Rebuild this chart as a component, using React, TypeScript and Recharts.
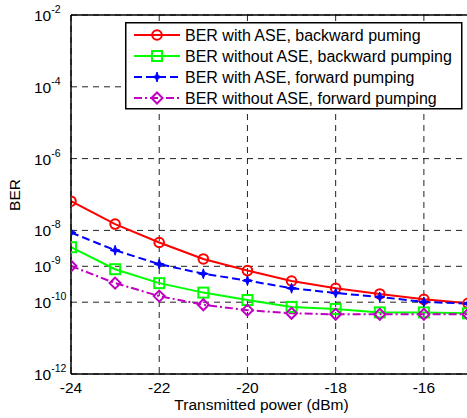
import React from 'react';
import { LineChart, Line, XAxis, YAxis, CartesianGrid, Legend, Label } from 'recharts';

const powerDbm = [-24, -23, -22, -21, -20, -19, -18, -17, -16, -15];
const berAseBackward = [6.5e-8, 1.5e-8, 4.6e-9, 1.6e-9, 7.6e-10, 3.9e-10, 2.45e-10, 1.7e-10, 1.2e-10, 9.3e-11];
const berNoAseBackward = [3.4e-9, 8.3e-10, 3.4e-10, 1.85e-10, 1.15e-10, 7.4e-11, 6.5e-11, 5.2e-11, 5.2e-11, 4.9e-11];
const berAseForward = [8.7e-9, 2.8e-9, 1.15e-9, 6.2e-10, 4.0e-10, 2.45e-10, 1.8e-10, 1.4e-10, 1.02e-10, 9.1e-11];
const berNoAseForward = [1.02e-9, 3.4e-10, 1.48e-10, 8.5e-11, 6.0e-11, 4.9e-11, 4.6e-11, 4.6e-11, 4.6e-11, 4.6e-11];

const xTicks = [-24, -22, -20, -18, -16];
const yTickExponents = [-2, -4, -6, -8, -9, -10, -12];
const yTicks = yTickExponents.map((e) => Math.pow(10, e));

const seriesNames = [
  'BER with ASE, backward puming',
  'BER without ASE, backward pumping',
  'BER with ASE, forward pumping',
  'BER without ASE, forward pumping',
];

const data = powerDbm.map((p, i) => ({
  p,
  a: berAseBackward[i],
  b: berNoAseBackward[i],
  c: berAseForward[i],
  d: berNoAseForward[i],
}));

const FONT = '"Liberation Sans", Arial, sans-serif';

type MarkerKind = 'circle' | 'square' | 'star' | 'diamond';

const series: { key: string; name: string; color: string; dash?: string; marker: MarkerKind }[] = [
  { key: 'a', name: seriesNames[0], color: '#ff0000', marker: 'circle' },
  { key: 'b', name: seriesNames[1], color: '#00ff00', marker: 'square' },
  { key: 'c', name: seriesNames[2], color: '#0000ff', dash: '8 4', marker: 'star' },
  { key: 'd', name: seriesNames[3], color: '#c000c0', dash: '8 3 2 3', marker: 'diamond' },
];

function Marker({ cx, cy, kind, color }: { cx: number; cy: number; kind: MarkerKind; color: string }) {
  if (cx == null || cy == null) return null;
  if (kind === 'circle') return <circle cx={cx} cy={cy} r={4.8} fill="none" stroke={color} strokeWidth={2} />;
  if (kind === 'square') return <rect x={cx - 5} y={cy - 5} width={10} height={10} fill="none" stroke={color} strokeWidth={2} />;
  if (kind === 'diamond')
    return (
      <path d={`M${cx},${cy - 5.5} L${cx + 5.5},${cy} L${cx},${cy + 5.5} L${cx - 5.5},${cy} Z`} fill="none" stroke={color} strokeWidth={2} />
    );
  const r = 5;
  const ri = 1.8;
  const pts: string[] = [];
  for (let k = 0; k < 8; k++) {
    const ang = (Math.PI / 4) * k - Math.PI / 2;
    const rr = k % 2 === 0 ? r : ri;
    pts.push(`${cx + rr * Math.cos(ang)},${cy + rr * Math.sin(ang)}`);
  }
  return (
    <g>
      <polygon points={pts.join(' ')} fill={color} stroke={color} strokeWidth={1} />
      <line x1={cx - 4} y1={cy} x2={cx + 4} y2={cy} stroke={color} strokeWidth={2} />
    </g>
  );
}

const XTick = (props: any) => {
  const { x, payload } = props;
  return (
    <text x={x} y={393} textAnchor="middle" fontSize={15.5} fontFamily={FONT} fill="#000">
      {payload.value}
    </text>
  );
};

const YTick = (props: any) => {
  const { y, payload } = props;
  const e = Math.round(Math.log10(payload.value));
  return (
    <text x={34} y={y + 6} textAnchor="start" fontSize={15.5} fontFamily={FONT} fill="#000">
      10
      <tspan fontSize={10.5} dy={-8}>
        {String(e)}
      </tspan>
    </text>
  );
};

const Empty = () => <g />;

const BerLabel = () => (
  <text
    x={14.5}
    y={195}
    transform="rotate(-90 14.5 195)"
    textAnchor="middle"
    dominantBaseline="central"
    fontSize={15.5}
    fontFamily={FONT}
    fill="#000"
  >
    BER
  </text>
);

const LegendContent = () => (
  <svg width={338} height={88} style={{ display: 'block' }}>
    <rect x={0.75} y={0.75} width={336} height={86} fill="#fff" stroke="#000" strokeWidth={1.5} />
    {series.map((s, i) => {
      const y = 13 + i * 21;
      return (
        <g key={s.key}>
          <line x1={9} y1={y} x2={55} y2={y} stroke={s.color} strokeWidth={2} strokeDasharray={s.dash} />
          <Marker cx={32} cy={y} kind={s.marker} color={s.color} />
          <text x={60} y={y + 5.5} fontSize={16} fontFamily={FONT} fill="#000">
            {s.name}
          </text>
        </g>
      );
    })}
  </svg>
);

export default function App() {
  return (
    <div style={{ position: 'absolute', left: 0, top: 0 }}>
      <LineChart width={468} height={418} data={data} margin={{ top: 15, right: 0, bottom: 0, left: 0 }}>
        <CartesianGrid stroke="#222" strokeDasharray="6 5" strokeWidth={1} />
        <XAxis
          dataKey="p"
          type="number"
          domain={[-24, -15]}
          ticks={xTicks}
          height={44}
          tickLine={false}
          axisLine={{ stroke: '#000', strokeWidth: 1.5 }}
          tick={<XTick />}
          allowDataOverflow
        >
          <Label
            value="Transmitted power (dBm)"
            position="insideBottom"
            offset={8}
            dx={-8}
            style={{ fontSize: 15.5, fontFamily: FONT, fill: '#000' }}
          />
        </XAxis>
        <XAxis
          xAxisId="top"
          orientation="top"
          type="number"
          domain={[-24, -15]}
          ticks={xTicks}
          mirror
          tickSize={5}
          tickLine={{ stroke: '#000' }}
          axisLine={{ stroke: '#000', strokeWidth: 1.5 }}
          tick={<Empty />}
          allowDataOverflow
        />
        <YAxis
          scale="log"
          type="number"
          domain={[1e-12, 1e-2]}
          ticks={yTicks}
          width={71}
          tickLine={false}
          axisLine={{ stroke: '#000', strokeWidth: 1.5 }}
          tick={<YTick />}
          allowDataOverflow
        >
          <Label value="BER" content={<BerLabel />} />
        </YAxis>
        <YAxis
          yAxisId="right"
          orientation="right"
          scale="log"
          type="number"
          domain={[1e-12, 1e-2]}
          ticks={yTicks}
          mirror
          width={0}
          tickSize={5}
          tickLine={{ stroke: '#000' }}
          axisLine={false}
          tick={<Empty />}
          allowDataOverflow
        />
        <Legend
          layout="vertical"
          align="center"
          verticalAlign="middle"
          content={<LegendContent />}
          wrapperStyle={{ position: 'absolute', left: 125, top: 22, width: 338, height: 88 }}
        />
        {series.map((s) => (
          <Line
            key={s.key}
            dataKey={s.key}
            name={s.name}
            stroke={s.color}
            strokeWidth={2}
            strokeDasharray={s.dash}
            isAnimationActive={false}
            dot={(props: any) => (
              <Marker key={`${s.key}-${props.index}`} cx={props.cx} cy={props.cy} kind={s.marker} color={s.color} />
            )}
          />
        ))}
      </LineChart>
    </div>
  );
}
